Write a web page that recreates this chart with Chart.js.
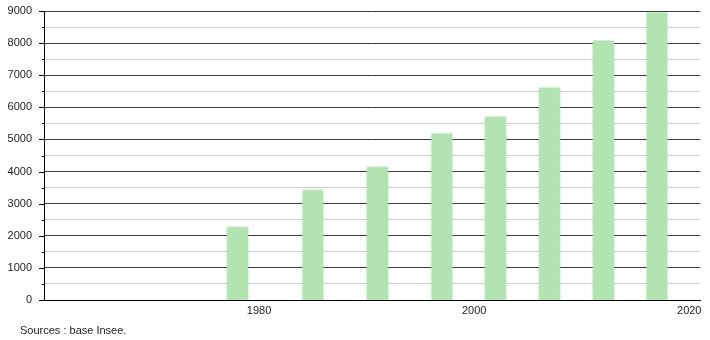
<!DOCTYPE html>
<html lang="fr">
<head>
  <meta charset="UTF-8" />
  <title>Population</title>
  <script src="https://cdn.jsdelivr.net/npm/chart.js"></script>
  <style>
    body { margin: 0; background: #fff; }
    .wrap { position: relative; width: 710px; height: 340px; }
    .source {
      position: absolute;
      left: 20px;
      top: 324px;
      font-family: 'Liberation Sans', Arial, sans-serif;
      font-size: 11px;
      color: #222;
    }
  </style>
</head>
<body>
  <div class="wrap">
    <canvas id="chart" width="710" height="340"></canvas>
    <div class="source">Sources : base Insee.</div>
  </div>

  <script>
    const years = [1978, 1985, 1991, 1997, 2002, 2007, 2012, 2017];
    const population = [2250, 3400, 4120, 5170, 5700, 6600, 8060, 8940];
    const yearTicks = [1980, 2000, 2020];

    // short ticks on the left of the y axis (long every 1000, short every 500)
    const yTickMarks = {
      id: 'yTickMarks',
      afterDraw(chart) {
        const y = chart.scales.y;
        const ctx = chart.ctx;
        ctx.save();
        ctx.strokeStyle = '#000';
        ctx.lineWidth = 1;
        for (let v = 0; v <= 9000; v += 500) {
          const py = Math.round(y.getPixelForValue(v)) + 0.5;
          const len = v % 1000 === 0 ? 5 : 2;
          ctx.beginPath();
          ctx.moveTo(y.right - len, py);
          ctx.lineTo(y.right, py);
          ctx.stroke();
        }
        ctx.restore();
      }
    };

    // soft edges on the bars
    const softBars = {
      id: 'softBars',
      beforeDatasetDraw(chart) {
        chart.ctx.save();
        chart.ctx.shadowColor = 'rgba(160,215,160,0.9)';
        chart.ctx.shadowBlur = 2;
      },
      afterDatasetDraw(chart) {
        chart.ctx.restore();
      }
    };

    new Chart(document.getElementById('chart'), {
      type: 'bar',
      data: {
        datasets: [{
          data: years.map((yr, i) => ({ x: yr, y: population[i] })),
          backgroundColor: 'rgb(177,228,177)',
          borderWidth: 0,
          barThickness: 20
        }]
      },
      options: {
        responsive: false,
        animation: false,
        layout: { padding: { top: 11, right: 10, left: 0, bottom: 0 } },
        plugins: {
          legend: { display: false },
          tooltip: { enabled: false }
        },
        scales: {
          x: {
            type: 'linear',
            min: 1960,
            max: 2021,
            offset: false,
            afterFit(scale) { scale.height = 40; },
            afterBuildTicks(scale) { scale.ticks = yearTicks.map(v => ({ value: v })); },
            grid: { display: false, drawTicks: false },
            border: { display: true, color: '#000', width: 1 },
            ticks: {
              padding: 4,
              color: '#222',
              font: { family: "'Liberation Sans', Arial, sans-serif", size: 11 },
              maxRotation: 0,
              callback: v => String(v)
            }
          },
          y: {
            min: 0,
            max: 9000,
            afterFit(scale) {
              scale.width = 44;
              scale.paddingTop = 0;
              scale.paddingBottom = 0;
            },
            grid: {
              drawTicks: false,
              color: ctx => (ctx.tick && ctx.tick.value % 1000 === 0) ? '#3a3a3a' : '#cfcfcf',
              lineWidth: 1
            },
            border: { display: true, color: '#000', width: 1 },
            ticks: {
              stepSize: 500,
              autoSkip: false,
              padding: 12,
              color: '#222',
              font: { family: "'Liberation Sans', Arial, sans-serif", size: 11 },
              callback: v => (v % 1000 === 0 ? String(v) : '')
            }
          }
        }
      },
      plugins: [yTickMarks, softBars]
    });
  </script>
</body>
</html>
